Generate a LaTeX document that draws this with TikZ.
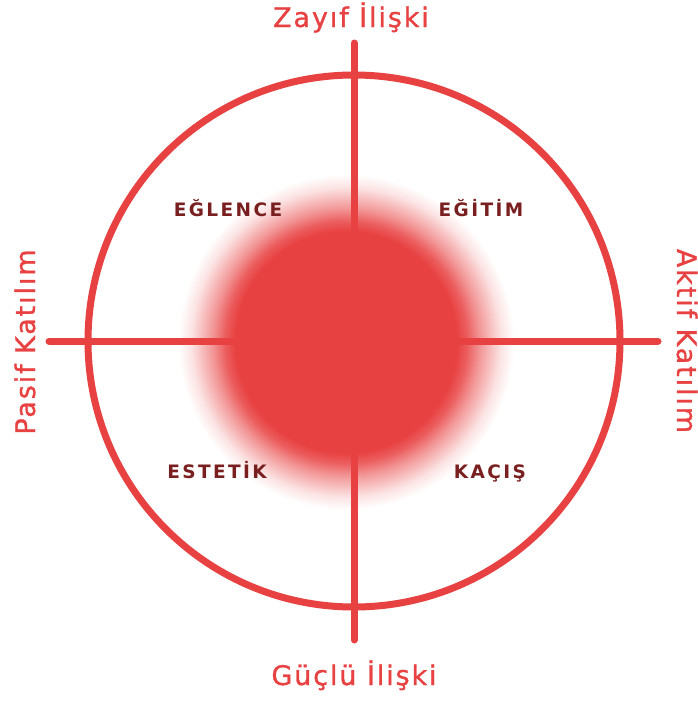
\documentclass[tikz,border=0pt]{standalone}
\usepackage{fontspec}
\setmainfont{DejaVu Sans}
\newfontfamily\outerfont[LetterSpace=7,FakeBold=1]{DejaVu Sans}
\newfontfamily\quadfont[LetterSpace=13]{DejaVu Sans}
\definecolor{mainred}{RGB}{232,65,66}
\definecolor{darkred}{RGB}{122,31,31}
\colorlet{fadeA}{mainred!85!white}
\colorlet{fadeB}{mainred!55!white}
\colorlet{fadeC}{mainred!15!white}
% soft dot in the middle (25bp is the rim of the circle)
\pgfdeclareradialshading{blobshade}{\pgfpoint{0bp}{0bp}}{color(0bp)=(mainred); color(16.5bp)=(mainred); color(18bp)=(fadeA); color(19.9bp)=(fadeB); color(23bp)=(fadeC); color(25bp)=(white); color(50bp)=(white)}
\begin{document}
\begin{tikzpicture}[x=1pt,y=-1pt,
  axis/.style={line width=7pt, mainred, line cap=round},
  outer/.style={font=\outerfont\fontsize{27}{30}\selectfont, text=mainred, inner sep=0pt, anchor=base},
  quad/.style={font=\quadfont\bfseries\fontsize{18.5}{20}\selectfont, text=darkred, inner sep=0pt, anchor=base}]
  \useasboundingbox (0,0) rectangle (698,702);
  \fill[white] (0,0) rectangle (698,702);
  \coordinate (c) at (354,341);
  \coordinate (dot) at (346,342);
  \coordinate (top) at (354,43);
  \coordinate (bottom) at (354,640);
  \coordinate (left) at (49,341);
  \coordinate (right) at (658,341);
  \shade[shading=blobshade] (dot) circle[radius=168pt];
  \draw[axis] (c) circle[radius=266pt];
  \draw[axis] (top) -- (bottom);
  \draw[axis] (left) -- (right);
  \node[outer] (weak) at (351,27) {Zayıf İlişki};
  \node[outer] (strong) at (354,685) {Güçlü İlişki};
  \node[outer, rotate=90] (passive) at (35,342) {Pasif Katılım};
  \node[outer, rotate=-90] (active) at (677,341) {Aktif Katılım};
  \node[quad] (fun) at (228,216) {EĞLENCE};
  \node[quad] (edu) at (481,216) {EĞİTİM};
  \node[quad] (aes) at (217,478) {ESTETİK};
  \node[quad] (esc) at (490,478) {KAÇIŞ};
\end{tikzpicture}
\end{document}
